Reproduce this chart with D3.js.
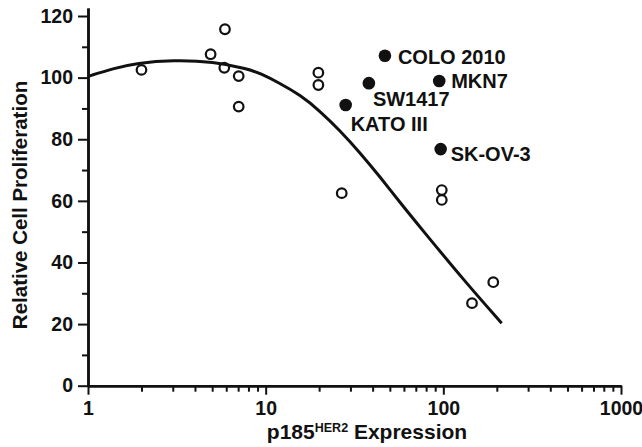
<!DOCTYPE html>
<html>
<head>
<meta charset="utf-8">
<script src="https://cdn.jsdelivr.net/npm/d3@7"></script>
<style>
  body { margin: 0; background: #fff; }
  text { font-family: "Liberation Sans", Arial, sans-serif; font-weight: bold; fill: #111; }
</style>
</head>
<body>
<script>
// open circles (other cell lines)
var openX = [2, 4.9, 5.9, 5.85, 7.05, 7.05, 19.8, 19.8, 26.8, 98, 98, 145, 191];
var openY = [102.5, 107.6, 115.7, 103.2, 100.5, 90.6, 101.6, 97.6, 62.5, 63.5, 60.3, 26.8, 33.6];

// filled circles (named cell lines)
var namedCells = ['COLO 2010', 'SW1417', 'KATO III', 'MKN7', 'SK-OV-3'];
var namedX = [46.9, 38.1, 28.2, 94.8, 96.6];
var namedY = [107.1, 98.2, 91.1, 98.9, 76.8];

// fitted curve
var curveX = [1, 1.39, 1.88, 3.02, 5.07, 8.0, 9.29, 12.0, 15.6, 20.2, 26.2, 33.9, 44.0, 57.0, 73.9, 135, 213];
var curveY = [100.4, 103.0, 104.7, 105.7, 105.2, 102.8, 101.4, 98.2, 94.4, 89.2, 82.8, 75.7, 67.8, 59.5, 51.5, 33.2, 20.3];

var xMajor = [1, 10, 100, 1000];
var xMinor = [2, 3, 4, 5, 6, 7, 8, 9, 20, 30, 40, 50, 60, 70, 80, 90, 200, 300, 400, 500, 600, 700, 800, 900];
var yMajor = [0, 20, 40, 60, 80, 100, 120];
var yMinor = [10, 30, 50, 70, 90, 110];

// label offsets from the dot (dx, dy)
var labelDx = [13, 4, 5, 12, 10];
var labelDy = [8, 23, 26, 7, 12];

var svg = d3.select('body').append('svg')
    .attr('width', 642)
    .attr('height', 447);

var x = d3.scaleLog().domain([1, 1000]).range([88, 621]);
var y = d3.scaleLinear().domain([0, 122.6]).range([385.7, 8]);

// y axis
svg.append('g').attr('transform', 'translate(88,0)')
    .call(d3.axisLeft(y).tickValues(yMajor).tickSize(10).tickSizeOuter(0).tickPadding(5));
svg.append('g').attr('transform', 'translate(88,0)')
    .call(d3.axisLeft(y).tickValues(yMinor).tickSize(6).tickSizeOuter(0).tickFormat(''));

// x axis
svg.append('g').attr('transform', 'translate(0,385.7)')
    .call(d3.axisBottom(x).tickValues(xMajor).tickSize(9).tickSizeOuter(0).tickPadding(6).tickFormat(d3.format('d')));
svg.append('g').attr('transform', 'translate(0,385.7)')
    .call(d3.axisBottom(x).tickValues(xMinor).tickSize(6).tickSizeOuter(0).tickFormat(''));

svg.selectAll('.domain').attr('stroke', '#111').attr('stroke-width', 2.5);
svg.selectAll('.tick line').attr('stroke', '#111').attr('stroke-width', 2);
svg.selectAll('.tick text').attr('font-size', 19.5).attr('font-family', null).attr('fill', '#111');

// axis titles
svg.append('text')
    .attr('transform', 'translate(27,205) rotate(-90)')
    .attr('text-anchor', 'middle')
    .attr('font-size', 20.5)
    .text('Relative Cell Proliferation');

var xt = svg.append('text')
    .attr('x', 367)
    .attr('y', 439)
    .attr('text-anchor', 'middle')
    .attr('font-size', 21);
xt.append('tspan').text('p185');
xt.append('tspan').attr('font-size', 12.5).attr('dy', -7).text('HER2');
xt.append('tspan').attr('dy', 7).text(' Expression');

// curve
var line = d3.line()
    .x(function(d) { return x(d[0]); })
    .y(function(d) { return y(d[1]); })
    .curve(d3.curveBasis);

svg.append('path')
    .datum(d3.zip(curveX, curveY))
    .attr('d', line)
    .attr('fill', 'none')
    .attr('stroke', '#111')
    .attr('stroke-width', 3);

// open circles
svg.selectAll('circle.open')
    .data(d3.zip(openX, openY))
    .enter().append('circle')
    .attr('class', 'open')
    .attr('cx', function(d) { return x(d[0]); })
    .attr('cy', function(d) { return y(d[1]); })
    .attr('r', 4.8)
    .attr('fill', 'none')
    .attr('stroke', '#111')
    .attr('stroke-width', 2.2);

// filled circles + names
var named = svg.selectAll('g.named')
    .data(namedCells)
    .enter().append('g')
    .attr('class', 'named');

named.append('circle')
    .attr('cx', function(d, i) { return x(namedX[i]); })
    .attr('cy', function(d, i) { return y(namedY[i]); })
    .attr('r', 6.3)
    .attr('fill', '#111');

named.append('text')
    .attr('x', function(d, i) { return x(namedX[i]) + labelDx[i]; })
    .attr('y', function(d, i) { return y(namedY[i]) + labelDy[i]; })
    .attr('font-size', 20)
    .text(function(d) { return d; });
</script>
</body>
</html>
